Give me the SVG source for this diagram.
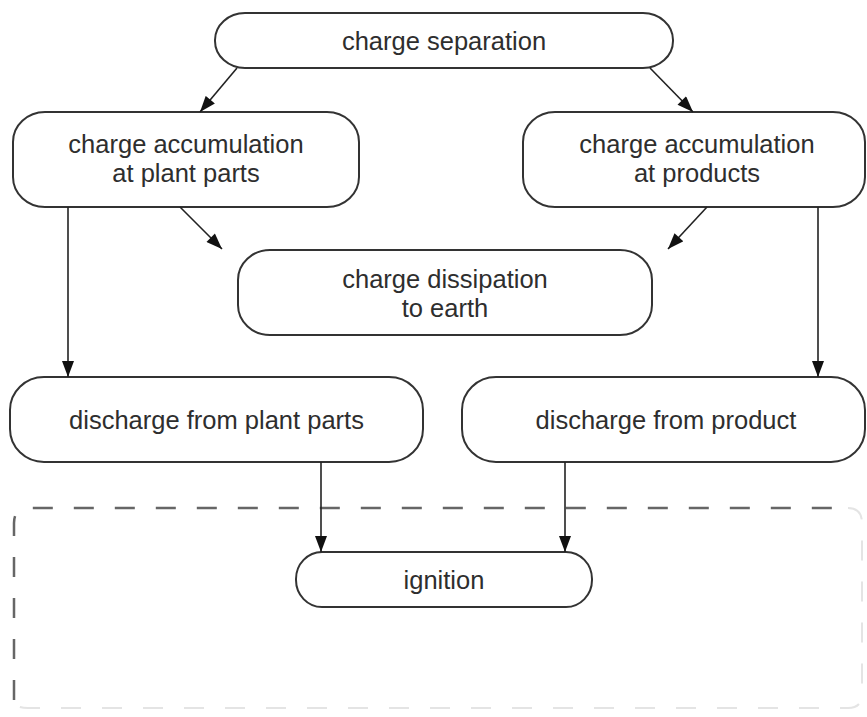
<svg xmlns="http://www.w3.org/2000/svg" width="867" height="717" viewBox="0 0 867 717">
<defs>
<style>
.node rect{fill:#fff;stroke:#333;stroke-width:2}
.node text{font-family:"Liberation Sans",Arial,sans-serif;font-size:25.5px;fill:#2e2e2e;text-anchor:middle}
.conn line{stroke:#222;stroke-width:1.6;marker-end:url(#ah)}
.dash{fill:none;stroke:#666;stroke-width:2.5;stroke-dasharray:20 21}
.dashlight{fill:none;stroke:#e4e4e4;stroke-width:2;stroke-dasharray:20 21}
</style>
<marker id="ah" viewBox="0 0 16 12" refX="16" refY="6" markerWidth="17" markerHeight="12" markerUnits="userSpaceOnUse" orient="auto">
<path d="M0,0 L16,6 L0,12 z" fill="#111"/>
</marker>
</defs>
<rect width="867" height="717" fill="#fff"/>
<g id="boundary">
<path class="dash" d="M14,700 L14,523 Q14,508 29,508 L848,508"/>
<path class="dashlight" d="M848,508 Q862,508 862,523 L862,694 Q862,708 848,708 L28,708 Q14,708 14,700"/>
</g>
<g id="n-separation" class="node">
<rect x="215" y="13" width="458" height="55" rx="30" ry="27"/>
<text x="444" y="50">charge separation</text>
</g>
<g id="n-acc-plant" class="node">
<rect x="13" y="112" width="346" height="95" rx="32" ry="30"/>
<text x="186" y="153">charge accumulation</text>
<text x="186" y="182">at plant parts</text>
</g>
<g id="n-acc-products" class="node">
<rect x="523" y="112" width="342" height="95" rx="32" ry="30"/>
<text x="697" y="153">charge accumulation</text>
<text x="697" y="182">at products</text>
</g>
<g id="n-dissipation" class="node">
<rect x="238" y="250" width="414" height="85" rx="32" ry="30"/>
<text x="445" y="288">charge dissipation</text>
<text x="445" y="317">to earth</text>
</g>
<g id="n-dis-plant" class="node">
<rect x="10" y="377" width="413" height="85" rx="34" ry="33"/>
<text x="216.5" y="429">discharge from plant parts</text>
</g>
<g id="n-dis-product" class="node">
<rect x="462" y="377" width="403" height="85" rx="34" ry="33"/>
<text x="666" y="429">discharge from product</text>
</g>
<g id="n-ignition" class="node">
<rect x="296" y="552" width="296" height="55" rx="26" ry="27"/>
<text x="444" y="589">ignition</text>
</g>
<g id="connectors" class="conn">
<line x1="237" y1="68" x2="200" y2="112"/>
<line x1="650" y1="68" x2="693" y2="112"/>
<line x1="180" y1="207" x2="222" y2="249"/>
<line x1="707" y1="207" x2="668" y2="249"/>
<line x1="68" y1="207" x2="68" y2="377"/>
<line x1="818" y1="207" x2="818" y2="377"/>
<line x1="321" y1="462" x2="321" y2="552"/>
<line x1="565" y1="462" x2="565" y2="552"/>
</g>
</svg>
